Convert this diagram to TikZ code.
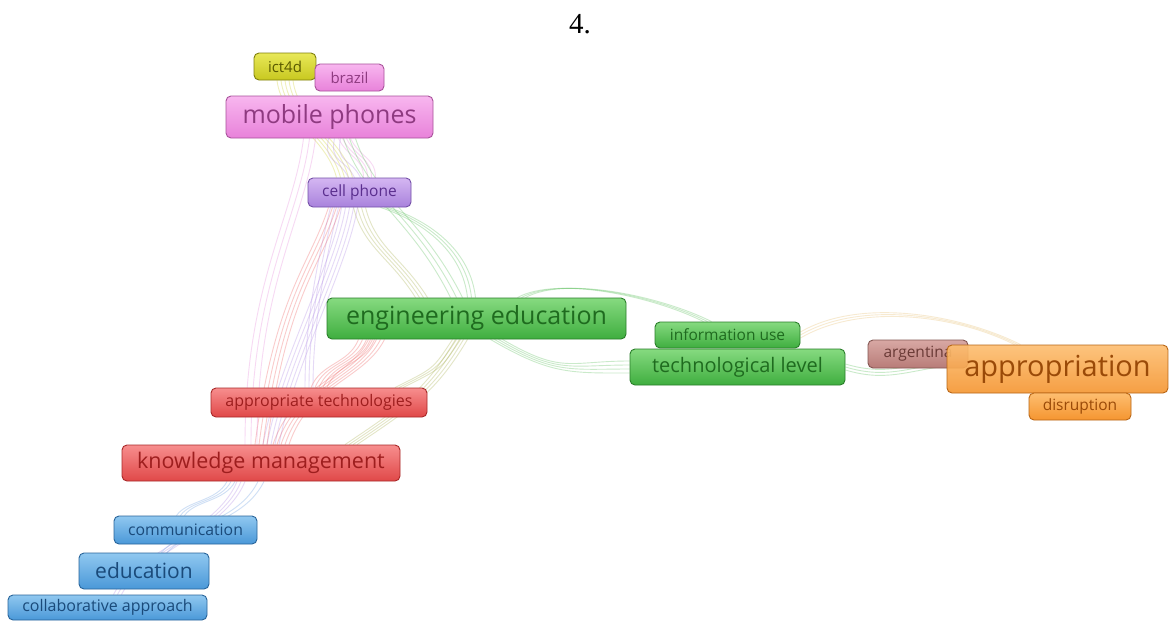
\documentclass[tikz,border=0pt]{standalone}
\usepackage{fontspec}
\setmainfont{Open Sans}
\newfontfamily\titlefont{Liberation Serif}
\usetikzlibrary{calc}
\pgfdeclarelayer{background}
\pgfdeclarelayer{bg0}
\pgfsetlayers{bg0,background,main}
\definecolor{gF1}{HTML}{86DA80}\definecolor{gF2}{HTML}{3FAE3F}\definecolor{gB}{HTML}{2A7E2A}\definecolor{gT}{HTML}{1F6B1F}
\definecolor{rF1}{HTML}{F78E8E}\definecolor{rF2}{HTML}{E04848}\definecolor{rB}{HTML}{A82828}\definecolor{rT}{HTML}{9E1E1E}
\definecolor{pF1}{HTML}{F8B6EF}\definecolor{pF2}{HTML}{E882DA}\definecolor{pB}{HTML}{A8529A}\definecolor{pT}{HTML}{8E3A80}
\definecolor{uF1}{HTML}{D4B6F2}\definecolor{uF2}{HTML}{A982DC}\definecolor{uB}{HTML}{7450A8}\definecolor{uT}{HTML}{5A2E8E}
\definecolor{yF1}{HTML}{E8E858}\definecolor{yF2}{HTML}{C8C820}\definecolor{yB}{HTML}{80800E}\definecolor{yT}{HTML}{5A5A00}
\definecolor{bF1}{HTML}{90C8F0}\definecolor{bF2}{HTML}{4A98D8}\definecolor{bB}{HTML}{28649A}\definecolor{bT}{HTML}{1A4A7A}
\definecolor{oF1}{HTML}{FDBE70}\definecolor{oF2}{HTML}{F59530}\definecolor{oB}{HTML}{B86616}\definecolor{oT}{HTML}{9A4A08}
\definecolor{nF1}{HTML}{D8A8A4}\definecolor{nF2}{HTML}{B87C78}\definecolor{nB}{HTML}{845652}\definecolor{nT}{HTML}{6A3A36}
\definecolor{gE}{HTML}{5CC05C}\definecolor{rE}{HTML}{F06060}\definecolor{pE}{HTML}{E88ADC}
\definecolor{uE}{HTML}{B08AE6}\definecolor{yE}{HTML}{D0D030}\definecolor{bE}{HTML}{6A9EE0}
\definecolor{oE}{HTML}{E8C070}\definecolor{olE}{HTML}{A8B050}
\tikzset{
  kw/.style={rounded corners=5pt, line width=0.9pt, inner sep=0pt, align=center},
  fs/.style={font=\fontsize{#1}{#1}\selectfont},
  gbox/.style={kw, top color=gF1, bottom color=gF2, draw=gB, text=gT},
  rbox/.style={kw, top color=rF1, bottom color=rF2, draw=rB, text=rT},
  pbox/.style={kw, top color=pF1, bottom color=pF2, draw=pB, text=pT},
  ubox/.style={kw, top color=uF1, bottom color=uF2, draw=uB, text=uT},
  ybox/.style={kw, top color=yF1, bottom color=yF2, draw=yB, text=yT},
  bbox/.style={kw, top color=bF1, bottom color=bF2, draw=bB, text=bT},
  obox/.style={kw, top color=oF1, bottom color=oF2, draw=oB, text=oT},
  nbox/.style={kw, top color=nF1, bottom color=nF2, draw=nB, text=nT},
  lk/.style={line width=0.9pt, draw opacity=0.32},
}
\begin{document}
\begin{tikzpicture}[x=1pt,y=-1pt]
\useasboundingbox (0,0) rectangle (1169,621);
\begin{pgfonlayer}{bg0}
\fill[white] (0,0) rectangle (1169,621);
\end{pgfonlayer}

\node[font=\titlefont\fontsize{29}{29}\selectfont] (title) at (580,24) {4.};

% nodes
\node[ybox, fs=15, minimum width=62, minimum height=27] (ict) at (285,66.5) {ict4d};
\node[pbox, fs=15, minimum width=69, minimum height=27] (br) at (349.5,77.5) {brazil};
\node[pbox, fs=25, minimum width=207, minimum height=42] (mp) at (329.5,117) {mobile phones};
\node[ubox, fs=15.5, minimum width=103, minimum height=29] (cp) at (359.5,192.5) {cell phone};
\node[gbox, fs=25, minimum width=299, minimum height=41] (ee) at (476.5,318.5) {engineering education};
\node[gbox, fs=15.5, minimum width=145, minimum height=26] (iu) at (727.5,335) {information use};
\node[gbox, fs=20, minimum width=215, minimum height=36] (tl) at (737.5,367) {technological level};
\node[nbox, fs=15.5, minimum width=100, minimum height=28] (ar) at (918,354) {argentina};
\node[obox, fs=29, minimum width=221, minimum height=48, fill opacity=0.9, text opacity=1] (ap) at (1057.5,369) {appropriation};
\node[obox, fs=15.5, minimum width=102, minimum height=27] (di) at (1080,406.5) {disruption};
\node[rbox, fs=16, minimum width=216, minimum height=29] (at) at (319,402.5) {appropriate technologies};
\node[rbox, fs=21.5, minimum width=278, minimum height=36] (km) at (261,463) {knowledge management};
\node[bbox, fs=15.8, minimum width=143, minimum height=28] (cm) at (185.5,530) {communication};
\node[bbox, fs=21, minimum width=130, minimum height=36] (ed) at (144,571) {education};
\node[bbox, fs=16, minimum width=199, minimum height=25] (co) at (107.5,607.5) {collaborative approach};

\begin{pgfonlayer}{background}
% ict4d - cell phone (yellow)
\foreach \d in {-8,-4,0,4,8}
  \draw[lk, yE] ([xshift=\d pt]ict.south) .. controls +(5,40) and +(-10,-40) .. ([xshift=\d pt-15pt]cp.north);
% mobile phones - cell phone (pink / purple)
\foreach \d in {-6,-2,2,6}
  \draw[lk, pE] ([xshift=\d pt+15pt]mp.south) .. controls +(10,20) and +(0,-20) .. ([xshift=\d pt+10pt]cp.north);
\foreach \d in {-6,0,6}
  \draw[lk, uE] ([xshift=\d pt+5pt]mp.south) .. controls +(-5,25) and +(-10,-20) .. ([xshift=\d pt-5pt]cp.north);
% mobile phones - engineering education (green)
\foreach \d in {-6,0,6}
  \draw[lk, gE] ([xshift=\d pt+20pt]mp.south) .. controls +(20,60) and +(-40,-80) .. ([xshift=\d pt-20pt]ee.north);
% cell phone - engineering education (green arc, olive)
\foreach \d in {-4,0,4}
  \draw[lk, gE] ([xshift=\d pt+25pt]cp.south) .. controls +(45,15) and +(-5,-45) .. ([xshift=\d pt-5pt]ee.north);
\foreach \d in {-6,-2,2,6}
  \draw[lk, olE] ([xshift=\d pt]cp.south) .. controls +(10,40) and +(-25,-40) .. ([xshift=\d pt-55pt]ee.north);
% cell phone - knowledge management / appropriate technologies (purple)
\foreach \d in {-8,-4,0,4,8}
  \draw[lk, uE] ([xshift=\d pt-10pt]cp.south) .. controls +(-10,60) and +(15,-80) .. ([xshift=\d pt+10pt]km.north);
\foreach \d in {-4,0,4}
  \draw[lk, uE] ([xshift=\d pt-25pt]cp.south) .. controls +(-15,60) and +(0,-60) .. ([xshift=\d pt-10pt]at.north);
% knowledge management - mobile phones (red/pink, left side)
\foreach \d in {-6,-2,2,6}
  \draw[lk, rE] ([xshift=\d pt]km.north) .. controls +(20,-150) and +(-20,60) .. ([xshift=\d pt-25pt]cp.south);
\foreach \d in {-6,0,6}
  \draw[lk, pE] ([xshift=\d pt-10pt]km.north) .. controls +(0,-160) and +(-10,80) .. ([xshift=\d pt-20pt]mp.south);
% engineering education - appropriate technologies / knowledge management (red)
\foreach \d in {-8,-4,0,4,8}
  \draw[lk, rE] ([xshift=\d pt-110pt]ee.south) .. controls +(-10,25) and +(10,-25) .. ([xshift=\d pt]at.north);
\foreach \d in {-8,-4,0,4,8}
  \draw[lk, rE] ([xshift=\d pt-100pt]ee.south) .. controls +(-20,40) and +(20,-60) .. ([xshift=\d pt+20pt]km.north);
% engineering education - knowledge management (olive)
\foreach \d in {-6,-2,2,6}
  \draw[lk, olE] ([xshift=\d pt-15pt]ee.south) .. controls +(-30,50) and +(60,-40) .. ([xshift=\d pt+90pt]km.north);
\foreach \d in {-4,0,4}
  \draw[lk, olE] ([xshift=\d pt-20pt]ee.south) .. controls +(-20,30) and +(40,-20) .. ([xshift=\d pt+80pt]at.north);
% engineering education - technological level (green)
\foreach \d in {-6,-2,2,6}
  \draw[lk, gE] ([xshift=\d pt+20pt]ee.south) .. controls +(60,35) and +(-60,0) .. ([yshift=\d pt]tl.west);
% engineering education - information use (green arc above)
\foreach \d in {-4,0,4}
  \draw[lk, gE] ([xshift=\d pt+45pt]ee.north) .. controls +(40,-22) and +(-50,-25) .. ([xshift=\d pt-20pt]iu.north);
% technological level / information use - appropriation
\foreach \d in {-3,0,3}
  \draw[lk, oE] ([yshift=\d pt]iu.east) .. controls +(60,-35) and +(-60,-30) .. ([xshift=\d pt-40pt]ap.north);
\foreach \d in {-3,0,3}
  \draw[lk, gE] ([yshift=\d pt]tl.east) .. controls +(40,12) and +(-40,5) .. ([yshift=\d pt+6pt]ap.west);
% knowledge management - communication / education / collaborative approach (blue)
\foreach \d in {-4,0,4}
  \draw[lk, bE] ([xshift=\d pt-30pt]km.south) .. controls +(-10,20) and +(10,-15) .. ([xshift=\d pt-5pt]cm.north);
\foreach \d in {-4,0,4}
  \draw[lk, uE] ([xshift=\d pt-20pt]km.south) .. controls +(-20,50) and +(20,-40) .. ([xshift=\d pt+10pt]co.north);
\foreach \d in {-3,3}
  \draw[lk, bE] ([xshift=\d pt]km.south) .. controls +(-20,40) and +(30,-30) .. ([xshift=\d pt+20pt]ed.north);
\end{pgfonlayer}
\end{tikzpicture}
\end{document}
